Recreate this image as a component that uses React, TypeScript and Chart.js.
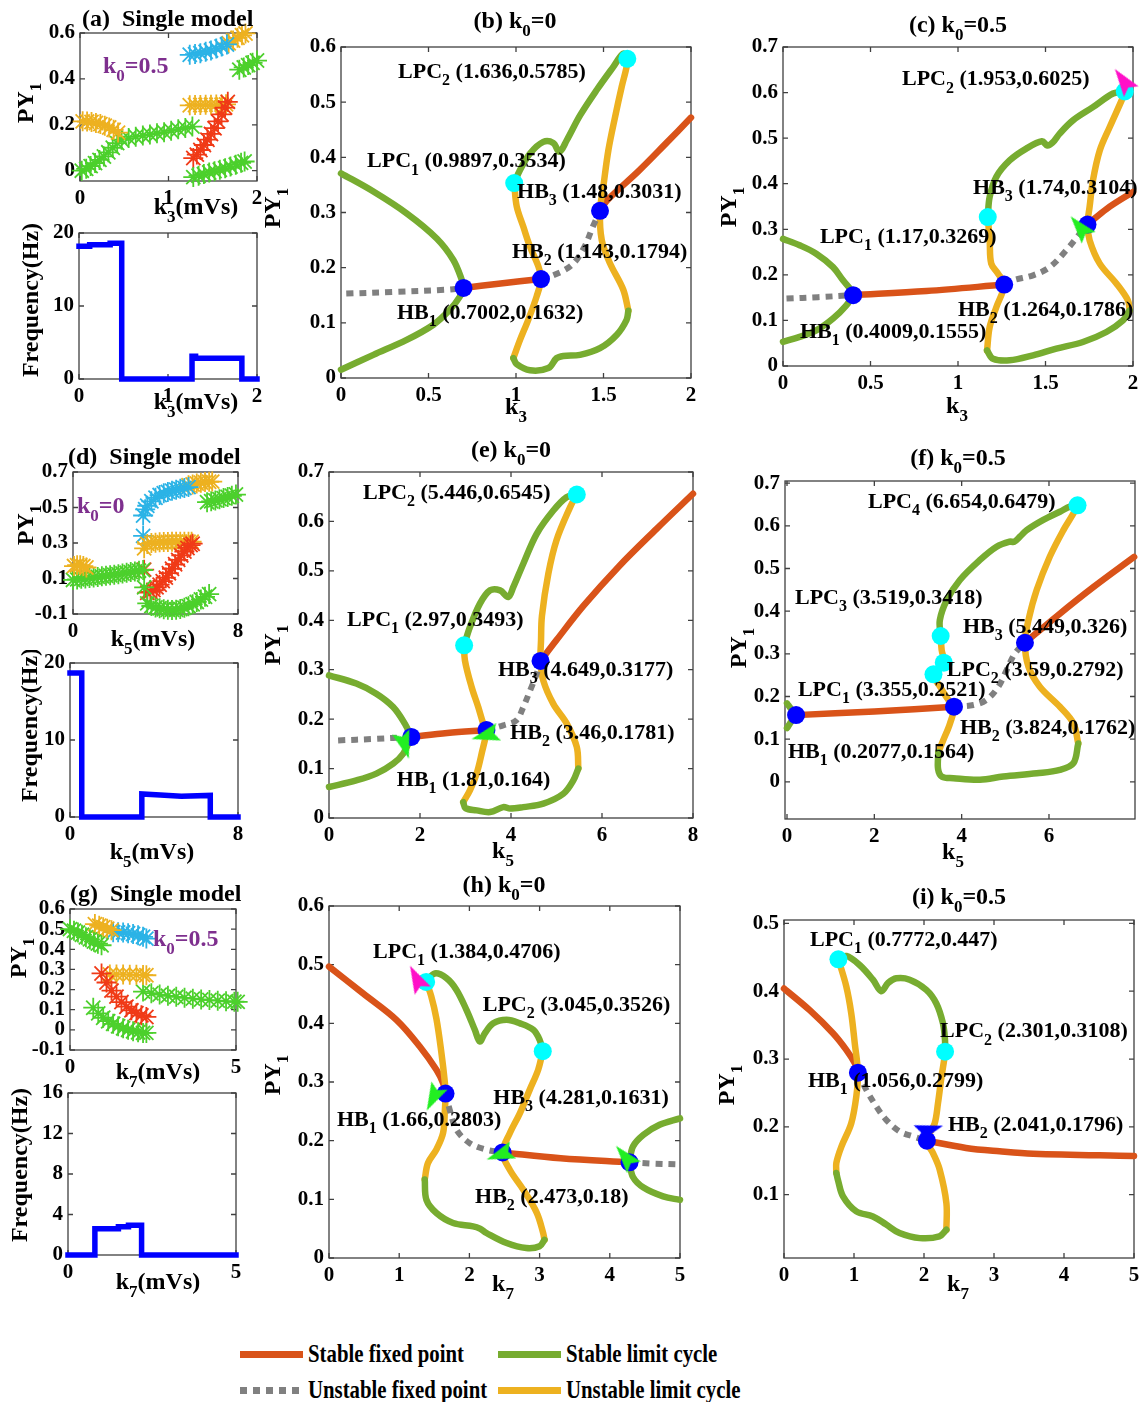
import React, { useEffect, useRef } from "react";
import { Chart, registerables } from "chart.js";
Chart.register(...registerables);

type Pt = [number, number];
type Lbl = [string, number, number];

const FONT = '"Liberation Serif", "Times New Roman", serif';
const C_SFP = "#D95319";
const C_UFP = "#808080";
const C_SLC = "#77AC30";
const C_ULC = "#EDB120";
const C_HB = "#0000FF";
const C_LPC = "#00FFFF";
const C_PURPLE = "#7E2F8E";
const C_ARR_G = "#22EE22";
const C_ARR_M = "#FF10C8";
const S_YEL = "#EDB120";
const S_GRN = "#4CD02C";
const S_CYN = "#2BB3E6";
const S_RED = "#F03A17";
const C_FREQ = "#0000FF";

// ---------------- (a) single model, k3 ----------------
const aYellowLowX = [0.03, 0.08, 0.13, 0.18, 0.23, 0.28, 0.33, 0.38, 0.43];
const aYellowLowY = [0.215, 0.214, 0.212, 0.208, 0.203, 0.196, 0.188, 0.178, 0.166];
const aGreenLowX = [0.02, 0.07, 0.12, 0.17, 0.22, 0.27, 0.32, 0.37, 0.42, 0.47, 0.55, 0.63, 0.71, 0.79, 0.87, 0.95, 1.03, 1.11, 1.19, 1.27];
const aGreenLowY = [0.0, 0.008, 0.02, 0.033, 0.047, 0.062, 0.08, 0.1, 0.12, 0.135, 0.142, 0.148, 0.153, 0.158, 0.163, 0.168, 0.174, 0.18, 0.186, 0.192];
const aYellowMidX = [1.24, 1.3, 1.36, 1.42, 1.48, 1.54, 1.6, 1.65];
const aYellowMidY = [0.285, 0.286, 0.286, 0.287, 0.287, 0.288, 0.288, 0.289];
const aRedX = [1.28, 1.32, 1.36, 1.4, 1.44, 1.48, 1.52, 1.56, 1.6, 1.64, 1.67];
const aRedY = [0.055, 0.07, 0.09, 0.112, 0.135, 0.16, 0.185, 0.215, 0.245, 0.275, 0.3];
const aGreenBotX = [1.28, 1.34, 1.4, 1.46, 1.52, 1.58, 1.64, 1.7, 1.76, 1.82, 1.86];
const aGreenBotY = [-0.028, -0.022, -0.015, -0.008, -0.002, 0.004, 0.011, 0.018, 0.026, 0.034, 0.04];
const aCyanX = [1.24, 1.3, 1.36, 1.42, 1.48, 1.54, 1.6, 1.66];
const aCyanY = [0.505, 0.508, 0.512, 0.518, 0.524, 0.532, 0.541, 0.55];
const aYellowTopX = [1.68, 1.73, 1.78, 1.83, 1.87];
const aYellowTopY = [0.555, 0.567, 0.579, 0.59, 0.598];
const aGreenTopX = [1.8, 1.85, 1.9, 1.95, 2.0];
const aGreenTopY = [0.44, 0.45, 0.46, 0.47, 0.48];
const aFreqX = [0, 0.12, 0.12, 0.35, 0.35, 0.48, 0.48, 1.27, 1.27, 1.31, 1.31, 1.83, 1.83, 2];
const aFreqY = [18.2, 18.2, 18.4, 18.4, 18.6, 18.6, 0, 0, 3.1, 3.1, 2.85, 2.85, 0, 0];

// ---------------- (b) k0=0, k3 ----------------
const bStableFP: Pt[][] = [
  [[0.7002, 0.1632], [0.9, 0.171], [1.143, 0.1794]],
  [[1.48, 0.3031], [1.52, 0.322], [1.7, 0.375], [1.85, 0.423], [2, 0.472]],
];
const bUnstableFP: Pt[][] = [
  [[0.03, 0.153], [0.3, 0.156], [0.6, 0.16], [0.7002, 0.1632]],
  [[1.143, 0.1794], [1.22, 0.187], [1.32, 0.205], [1.39, 0.237], [1.44, 0.275], [1.48, 0.3031]],
];
const bStableLC: Pt[][] = [
  [[0, 0.371], [0.185, 0.338], [0.375, 0.2985], [0.547, 0.253], [0.642, 0.214], [0.69, 0.178], [0.7002, 0.1632]],
  [[0, 0.015], [0.185, 0.042], [0.375, 0.069], [0.528, 0.0965], [0.623, 0.124], [0.68, 0.148], [0.7002, 0.1632]],
  [[0.985, 0.036], [1.004, 0.025], [1.08, 0.014], [1.185, 0.018], [1.232, 0.036], [1.27, 0.04], [1.366, 0.042], [1.48, 0.054], [1.575, 0.078], [1.632, 0.1055], [1.642, 0.122]],
  [[0.9897, 0.3534], [1.023, 0.377], [1.08, 0.407], [1.156, 0.428], [1.213, 0.426], [1.248, 0.41], [1.29, 0.431], [1.366, 0.476], [1.461, 0.522], [1.556, 0.564], [1.613, 0.588], [1.636, 0.5785]],
];
const bUnstableLC: Pt[][] = [
  [[0.9897, 0.3534], [1.004, 0.311], [1.042, 0.274], [1.08, 0.238], [1.128, 0.202], [1.143, 0.1794], [1.118, 0.148], [1.07, 0.1055], [1.023, 0.069], [0.985, 0.036]],
  [[1.642, 0.122], [1.613, 0.16], [1.537, 0.208], [1.49, 0.25], [1.48, 0.3031], [1.499, 0.347], [1.528, 0.413], [1.566, 0.473], [1.604, 0.528], [1.632, 0.564], [1.636, 0.5785]],
];
const bHB: Pt[] = [[0.7002, 0.1632], [1.143, 0.1794], [1.48, 0.3031]];
const bLPC: Pt[] = [[0.9897, 0.3534], [1.636, 0.5785]];
const bLabels: Lbl[] = [
  ["LPC_2 (1.636,0.5785)", 0.326, 0.555],
  ["LPC_1 (0.9897,0.3534)", 0.149, 0.392],
  ["HB_3 (1.48,0.3031)", 1.006, 0.337],
  ["HB_2 (1.143,0.1794)", 0.977, 0.228],
  ["HB_1 (0.7002,0.1632)", 0.32, 0.118],
];

// ---------------- (c) k0=0.5, k3 ----------------
const cStableFP: Pt[][] = [
  [[0.4009, 0.1555], [0.82, 0.1646], [1.264, 0.1786]],
  [[1.74, 0.3104], [1.85, 0.345], [2, 0.382]],
];
const cUnstableFP: Pt[][] = [
  [[0.02, 0.148], [0.2, 0.151], [0.4009, 0.1555]],
  [[1.264, 0.1786], [1.314, 0.188], [1.429, 0.199], [1.524, 0.217], [1.619, 0.254], [1.695, 0.29], [1.74, 0.3104]],
];
const cStableLC: Pt[][] = [
  [[0, 0.279], [0.095, 0.265], [0.19, 0.2465], [0.286, 0.217], [0.343, 0.188], [0.39, 0.166], [0.4009, 0.1555]],
  [[0, 0.053], [0.095, 0.064], [0.19, 0.078], [0.286, 0.104], [0.362, 0.133], [0.4009, 0.1555]],
  [[1.981, 0.122], [1.943, 0.1], [1.848, 0.0746], [1.714, 0.0527], [1.562, 0.038], [1.429, 0.0234], [1.295, 0.0124], [1.2, 0.016], [1.166, 0.034]],
  [[1.17, 0.3269], [1.181, 0.371], [1.219, 0.415], [1.295, 0.451], [1.39, 0.477], [1.48, 0.493], [1.51, 0.484], [1.54, 0.49], [1.581, 0.51], [1.657, 0.539], [1.771, 0.568], [1.886, 0.598], [1.953, 0.6025]],
];
const cUnstableLC: Pt[][] = [
  [[1.17, 0.3269], [1.181, 0.276], [1.19, 0.2246], [1.229, 0.2026], [1.264, 0.1786], [1.219, 0.129], [1.181, 0.0856], [1.166, 0.034]],
  [[1.981, 0.122], [1.971, 0.144], [1.905, 0.181], [1.81, 0.2246], [1.752, 0.276], [1.74, 0.3104], [1.752, 0.349], [1.771, 0.407], [1.81, 0.473], [1.867, 0.5245], [1.943, 0.59], [1.953, 0.6025]],
];
const cHB: Pt[] = [[0.4009, 0.1555], [1.264, 0.1786], [1.74, 0.3104]];
const cLPC: Pt[] = [[1.17, 0.3269], [1.953, 0.6025]];
const cArrowsGreen: Pt[] = [[1.695, 0.305]];
const cArrowsGreenRot = [-40];
const cArrowsMagenta: Pt[] = [[1.943, 0.627]];
const cArrowsMagentaRot = [-36];
const cLabels: Lbl[] = [
  ["LPC_2 (1.953,0.6025)", 0.68, 0.628],
  ["HB_3 (1.74,0.3104)", 1.086, 0.391],
  ["LPC_1 (1.17,0.3269)", 0.211, 0.283],
  ["HB_2 (1.264,0.1786)", 1.0, 0.123],
  ["HB_1 (0.4009,0.1555)", 0.097, 0.0746],
];

// ---------------- (d) single model, k5 ----------------
const dYellowLowX = [0.05, 0.2, 0.35, 0.5, 0.65];
const dYellowLowY = [0.17, 0.175, 0.175, 0.17, 0.162];
const dGreenLowX = [0.0, 0.2, 0.4, 0.6, 0.8, 1.0, 1.2, 1.4, 1.6, 1.8, 2.0, 2.2, 2.4, 2.6, 2.8, 3.0, 3.2, 3.4];
const dGreenLowY = [0.092, 0.095, 0.098, 0.1, 0.103, 0.106, 0.109, 0.112, 0.115, 0.118, 0.121, 0.124, 0.128, 0.132, 0.136, 0.14, 0.144, 0.148];
const dCyanX = [3.4, 3.4, 3.5, 3.6, 3.8, 4.0, 4.2, 4.4, 4.6, 4.8, 5.0, 5.2, 5.4, 5.6];
const dCyanY = [0.34, 0.455, 0.49, 0.51, 0.535, 0.555, 0.57, 0.58, 0.588, 0.595, 0.6, 0.605, 0.61, 0.615];
const dYellowMidX = [3.45, 3.6, 3.8, 4.0, 4.2, 4.4, 4.6, 4.8, 5.0, 5.2, 5.4, 5.6, 5.75];
const dYellowMidY = [0.27, 0.295, 0.3, 0.302, 0.304, 0.305, 0.306, 0.307, 0.307, 0.307, 0.307, 0.307, 0.307];
const dYellowTopX = [5.6, 5.8, 6.0, 6.2, 6.4, 6.6, 6.75];
const dYellowTopY = [0.625, 0.63, 0.635, 0.64, 0.643, 0.645, 0.646];
const dGreenTopX = [6.5, 6.7, 6.9, 7.1, 7.3, 7.5, 7.7, 7.9];
const dGreenTopY = [0.53, 0.535, 0.54, 0.547, 0.553, 0.559, 0.566, 0.573];
const dRedX = [3.45, 3.6, 3.75, 3.9, 4.05, 4.2, 4.35, 4.5, 4.65, 4.8, 4.95, 5.1, 5.25, 5.4, 5.55, 5.7, 5.8];
const dRedY = [0.15, 0.02, 0.025, 0.035, 0.05, 0.065, 0.085, 0.105, 0.13, 0.155, 0.18, 0.205, 0.23, 0.252, 0.272, 0.288, 0.296];
const dGreenBotX = [3.45, 3.6, 3.8, 4.0, 4.2, 4.4, 4.6, 4.8, 5.0, 5.2, 5.4, 5.6, 5.8, 6.0, 6.2, 6.4, 6.6];
const dGreenBotY = [0.05, -0.04, -0.055, -0.063, -0.068, -0.073, -0.076, -0.077, -0.076, -0.072, -0.065, -0.056, -0.045, -0.032, -0.018, -0.003, 0.012];
const dFreqX = [0, 0.56, 0.56, 3.42, 3.42, 4.3, 5.3, 6.68, 6.68, 8];
const dFreqY = [18.7, 18.7, 0, 0, 3.0, 2.85, 2.7, 2.8, 0, 0];

// ---------------- (e) k0=0, k5 ----------------
const eStableFP: Pt[][] = [
  [[1.81, 0.164], [2.6, 0.172], [3.46, 0.1781]],
  [[4.649, 0.3177], [5.0, 0.36], [5.6, 0.43], [6.36, 0.508], [7.2, 0.585], [8, 0.656]],
];
const eUnstableFP: Pt[][] = [
  [[0.2, 0.157], [1.0, 0.16], [1.81, 0.164]],
  [[3.46, 0.1781], [3.83, 0.1875], [4.12, 0.1976], [4.27, 0.2245], [4.42, 0.258], [4.565, 0.292], [4.649, 0.3177]],
];
const eStableLC: Pt[][] = [
  [[0, 0.2886], [0.6, 0.272], [1.04, 0.2515], [1.41, 0.2245], [1.666, 0.191], [1.81, 0.164]],
  [[0, 0.0627], [0.6, 0.076], [1.04, 0.0897], [1.41, 0.11], [1.63, 0.13], [1.81, 0.164]],
  [[2.95, 0.032], [3.0, 0.02], [3.244, 0.0155], [3.54, 0.012], [3.83, 0.022], [3.98, 0.019], [4.27, 0.022], [4.71, 0.029], [5.15, 0.049], [5.37, 0.076], [5.48, 0.1]],
  [[2.97, 0.3493], [3.097, 0.386], [3.317, 0.4336], [3.54, 0.4606], [3.76, 0.4606], [3.94, 0.447], [4.05, 0.467], [4.27, 0.5145], [4.565, 0.575], [4.93, 0.622], [5.22, 0.649], [5.446, 0.6545]],
];
const eUnstableLC: Pt[][] = [
  [[2.97, 0.3493], [2.987, 0.319], [3.134, 0.265], [3.28, 0.2245], [3.39, 0.191], [3.46, 0.1781], [3.354, 0.13], [3.244, 0.0897], [3.097, 0.056], [2.95, 0.032]],
  [[5.48, 0.1], [5.446, 0.1436], [5.226, 0.191], [4.93, 0.231], [4.71, 0.278], [4.649, 0.3177], [4.66, 0.36], [4.68, 0.409], [4.82, 0.494], [5.0, 0.562], [5.3, 0.629], [5.446, 0.6545]],
];
const eHB: Pt[] = [[1.81, 0.164], [3.46, 0.1781], [4.649, 0.3177]];
const eLPC: Pt[] = [[2.97, 0.3493], [5.446, 0.6545]];
const eArrowsGreen: Pt[] = [[1.666, 0.147], [3.43, 0.167]];
const eArrowsGreenRot = [163, -105];
const eLabels: Lbl[] = [
  ["LPC_2 (5.446,0.6545)", 0.747, 0.6575],
  ["LPC_1 (2.97,0.3493)", 0.396, 0.4006],
  ["HB_3 (4.649,0.3177)", 3.714, 0.2994],
  ["HB_2 (3.46,0.1781)", 3.98, 0.172],
  ["HB_1 (1.81,0.164)", 1.49, 0.0769],
];

// ---------------- (f) k0=0.5, k5 ----------------
const fStableFP: Pt[][] = [
  [[0.2077, 0.1564], [2, 0.165], [3.824, 0.1762]],
  [[5.449, 0.326], [6.2, 0.39], [7, 0.455], [7.95, 0.527]],
];
const fUnstableFP: Pt[][] = [
  [[3.824, 0.1762], [4.27, 0.18], [4.57, 0.192], [4.84, 0.223], [5.03, 0.262], [5.22, 0.301], [5.449, 0.326]],
];
const fStableLC: Pt[][] = [
  [[0, 0.184], [0.1, 0.17], [0.2077, 0.1564]],
  [[0, 0.126], [0.1, 0.142], [0.2077, 0.1564]],
  [[3.466, 0.07], [3.46, 0.03], [3.55, 0.012], [3.81, 0.0086], [4.42, 0.005], [4.95, 0.0125], [5.72, 0.02], [6.25, 0.028], [6.56, 0.0437], [6.67, 0.09]],
  [[3.519, 0.3418], [3.5, 0.379], [3.66, 0.426], [3.96, 0.473], [4.42, 0.52], [4.8, 0.551], [5.1, 0.563], [5.2, 0.5625], [5.34, 0.575], [5.49, 0.59], [5.87, 0.614], [6.25, 0.633], [6.48, 0.645], [6.654, 0.6479]],
];
const fUnstableLC: Pt[][] = [
  [[3.519, 0.3418], [3.542, 0.309], [3.59, 0.2792], [3.355, 0.2521], [3.504, 0.2233], [3.695, 0.192], [3.824, 0.1762], [3.733, 0.137], [3.58, 0.098], [3.466, 0.07]],
  [[6.67, 0.09], [6.56, 0.137], [6.25, 0.176], [5.79, 0.223], [5.53, 0.27], [5.449, 0.326], [5.53, 0.379], [5.72, 0.45], [6.02, 0.528], [6.33, 0.59], [6.56, 0.629], [6.654, 0.6479]],
];
const fHB: Pt[] = [[0.2077, 0.1564], [3.824, 0.1762], [5.449, 0.326]];
const fLPC: Pt[] = [[3.355, 0.2521], [3.59, 0.2792], [3.519, 0.3418], [6.654, 0.6479]];
const fLabels: Lbl[] = [
  ["LPC_4 (6.654,0.6479)", 1.855, 0.656],
  ["LPC_3 (3.519,0.3418)", 0.183, 0.431],
  ["HB_3 (5.449,0.326)", 4.03, 0.363],
  ["LPC_2 (3.59,0.2792)", 3.66, 0.262],
  ["LPC_1 (3.355,0.2521)", 0.25, 0.215],
  ["HB_2 (3.824,0.1762)", 3.96, 0.126],
  ["HB_1 (0.2077,0.1564)", 0.02, 0.07],
];

// ---------------- (g) single model, k7 ----------------
const gGreenTopX = [0.0, 0.12, 0.24, 0.36, 0.48, 0.6, 0.72, 0.84, 0.95];
const gGreenTopY = [0.5, 0.492, 0.483, 0.472, 0.46, 0.449, 0.438, 0.428, 0.42];
const gYellowTopX = [0.75, 0.88, 1.0, 1.12, 1.25];
const gYellowTopY = [0.525, 0.517, 0.51, 0.502, 0.495];
const gCyanX = [1.3, 1.45, 1.6, 1.75, 1.9, 2.05, 2.2, 2.3];
const gCyanY = [0.485, 0.484, 0.483, 0.48, 0.476, 0.47, 0.462, 0.453];
const gYellowMidX = [1.2, 1.4, 1.6, 1.8, 2.0, 2.2, 2.3];
const gYellowMidY = [0.275, 0.275, 0.275, 0.274, 0.273, 0.272, 0.271];
const gRedX = [0.95, 1.1, 1.25, 1.4, 1.55, 1.7, 1.85, 2.0, 2.15, 2.3];
const gRedY = [0.28, 0.235, 0.195, 0.165, 0.138, 0.115, 0.097, 0.083, 0.072, 0.064];
const gGreenLowX = [0.7, 0.85, 1.0, 1.15, 1.3, 1.45, 1.6, 1.75, 1.9, 2.05, 2.2, 2.3];
const gGreenLowY = [0.11, 0.082, 0.06, 0.043, 0.03, 0.018, 0.008, 0.0, -0.007, -0.012, -0.015, -0.015];
const gGreenRightX = [2.2, 2.45, 2.7, 2.95, 3.2, 3.45, 3.7, 3.95, 4.2, 4.45, 4.7, 4.95, 5.05];
const gGreenRightY = [0.19, 0.182, 0.175, 0.169, 0.164, 0.159, 0.155, 0.151, 0.148, 0.145, 0.142, 0.14, 0.139];
const gFreqX = [0, 0.8, 0.8, 1.5, 1.5, 1.8, 1.8, 2.19, 2.19, 5];
const gFreqY = [0, 0, 2.6, 2.6, 2.8, 2.8, 2.95, 2.95, 0, 0];

// ---------------- (h) k0=0, k7 ----------------
const hStableFP: Pt[][] = [
  [[0, 0.4967], [0.485, 0.451], [0.96, 0.406], [1.293, 0.3605], [1.53, 0.3207], [1.625, 0.298], [1.66, 0.2803]],
  [[2.473, 0.18], [3.3, 0.17], [4.281, 0.1631]],
];
const hUnstableFP: Pt[][] = [
  [[1.66, 0.2803], [1.72, 0.2526], [1.816, 0.2185], [2.005, 0.1958], [2.243, 0.1845], [2.473, 0.18]],
  [[4.281, 0.1631], [4.6, 0.161], [5, 0.1595]],
];
const hStableLC: Pt[][] = [
  [[4.281, 0.1631], [4.33, 0.19], [4.48, 0.21], [4.71, 0.227], [5, 0.238]],
  [[4.281, 0.1631], [4.33, 0.138], [4.48, 0.12], [4.76, 0.105], [5, 0.099]],
  [[1.364, 0.134], [1.388, 0.099], [1.53, 0.0766], [1.768, 0.0596], [2.053, 0.054], [2.15, 0.05], [2.243, 0.0426], [2.53, 0.0255], [2.81, 0.017], [3.0, 0.02], [3.07, 0.031]],
  [[1.384, 0.4706], [1.507, 0.485], [1.673, 0.477], [1.816, 0.457], [1.958, 0.423], [2.077, 0.389], [2.148, 0.369], [2.22, 0.383], [2.34, 0.4], [2.53, 0.406], [2.72, 0.4], [2.91, 0.389], [3.0, 0.372], [3.045, 0.3526]],
];
const hUnstableLC: Pt[][] = [
  [[1.384, 0.4706], [1.455, 0.447], [1.53, 0.408], [1.6, 0.351], [1.65, 0.3], [1.66, 0.2803], [1.65, 0.25], [1.625, 0.213], [1.53, 0.185], [1.41, 0.162], [1.364, 0.134]],
  [[3.07, 0.031], [3.05, 0.043], [2.96, 0.077], [2.77, 0.116], [2.577, 0.15], [2.473, 0.18], [2.577, 0.213], [2.72, 0.247], [2.86, 0.287], [2.98, 0.321], [3.045, 0.3526]],
];
const hHB: Pt[] = [[1.66, 0.2803], [2.473, 0.18], [4.281, 0.1631]];
const hLPC: Pt[] = [[1.384, 0.4706], [3.045, 0.3526]];
const hArrowsGreen: Pt[] = [[1.483, 0.2725], [2.433, 0.176], [4.216, 0.173]];
const hArrowsGreenRot = [-153, -110, -40];
const hArrowsMagenta: Pt[] = [[1.245, 0.477]];
const hArrowsMagentaRot = [-27];
const hLabels: Lbl[] = [
  ["LPC_1 (1.384,0.4706)", 0.627, 0.5216],
  ["LPC_2 (3.045,0.3526)", 2.19, 0.431],
  ["HB_3 (4.281,0.1631)", 2.34, 0.2727],
  ["HB_1 (1.66,0.2803)", 0.114, 0.235],
  ["HB_2 (2.473,0.18)", 2.08, 0.104],
];

// ---------------- (i) k0=0.5, k7 ----------------
const iStableFP: Pt[][] = [
  [[0, 0.404], [0.367, 0.372], [0.7, 0.338], [0.89, 0.3135], [1.01, 0.294], [1.056, 0.2799]],
  [[2.041, 0.1796], [2.6, 0.169], [3.08, 0.164], [3.56, 0.1604], [5, 0.157]],
];
const iUnstableFP: Pt[][] = [
  [[1.056, 0.2799], [1.176, 0.2546], [1.32, 0.23], [1.46, 0.2104], [1.652, 0.1933], [1.843, 0.186], [2.041, 0.1796]],
];
const iStableLC: Pt[][] = [
  [[0.748, 0.132], [0.77, 0.122], [0.843, 0.0975], [1.033, 0.0754], [1.27, 0.068], [1.46, 0.056], [1.65, 0.0435], [1.94, 0.036], [2.22, 0.0386], [2.32, 0.0485]],
  [[0.7772, 0.447], [0.89, 0.452], [1.08, 0.4386], [1.27, 0.417], [1.39, 0.4], [1.486, 0.412], [1.605, 0.419], [1.795, 0.417], [2.033, 0.402], [2.176, 0.382], [2.27, 0.353], [2.3, 0.328], [2.301, 0.3108]],
];
const iUnstableLC: Pt[][] = [
  [[0.7772, 0.447], [0.89, 0.407], [0.96, 0.368], [1.01, 0.324], [1.056, 0.2799], [1.033, 0.245], [0.96, 0.205], [0.82, 0.171], [0.748, 0.147], [0.748, 0.132]],
  [[2.32, 0.0485], [2.32, 0.0877], [2.224, 0.137], [2.13, 0.161], [2.041, 0.1796], [2.152, 0.205], [2.2, 0.235], [2.25, 0.274], [2.29, 0.3], [2.301, 0.3108]],
];
const iHB: Pt[] = [[1.056, 0.2799], [2.041, 0.1796]];
const iLPC: Pt[] = [[0.7772, 0.447], [2.301, 0.3108]];
const iArrowsBlue: Pt[] = [[2.081, 0.1957]];
const iArrowsBlueRot = [73];
const iLabels: Lbl[] = [
  ["LPC_1 (0.7772,0.447)", 0.371, 0.4755],
  ["LPC_2 (2.301,0.3108)", 2.23, 0.3405],
  ["HB_1 (1.056,0.2799)", 0.343, 0.2669],
  ["HB_2 (2.041,0.1796)", 2.343, 0.203],
];

// ---------------- legend ----------------
const legendLabels = ["Stable fixed point", "Unstable fixed point", "Stable limit cycle", "Unstable limit cycle"];
const legendColors = [C_SFP, C_UFP, C_SLC, C_ULC];

// ================= helpers =================
const toXY = (pts: Pt[]) => pts.map(([x, y]) => ({ x, y }));
const zip = (xs: number[], ys: number[]) => xs.map((x, i) => ({ x, y: ys[i] }));

const arrowCache: Record<string, HTMLCanvasElement> = {};
function arrowImage(color: string): HTMLCanvasElement {
  if (arrowCache[color]) return arrowCache[color];
  const c = document.createElement("canvas");
  c.width = 30;
  c.height = 30;
  const g = c.getContext("2d") as CanvasRenderingContext2D;
  g.fillStyle = color;
  g.beginPath();
  g.moveTo(15, 1);
  g.lineTo(24, 29);
  g.lineTo(15, 24);
  g.lineTo(6, 29);
  g.closePath();
  g.fill();
  arrowCache[color] = c;
  return c;
}

const lineDs = (pts: Pt[], color: string, dashed = false) => ({
  data: toXY(pts),
  showLine: true,
  borderColor: color,
  backgroundColor: color,
  borderWidth: dashed ? 6 : 6.5,
  borderDash: dashed ? [7, 6] : [],
  borderCapStyle: dashed ? "butt" : "round",
  borderJoinStyle: "round",
  pointRadius: 0,
  pointHoverRadius: 0,
  tension: 0.35,
  clip: false,
  order: 3,
});
const stepDs = (xs: number[], ys: number[]) => ({
  data: zip(xs, ys),
  showLine: true,
  borderColor: C_FREQ,
  backgroundColor: C_FREQ,
  borderWidth: 5.5,
  borderCapStyle: "square",
  pointRadius: 0,
  pointHoverRadius: 0,
  tension: 0,
  clip: false,
  order: 3,
});
const dotDs = (pts: Pt[], color: string) => ({
  data: toXY(pts),
  showLine: false,
  pointStyle: "circle",
  pointRadius: 9,
  pointHoverRadius: 9,
  pointBackgroundColor: color,
  pointBorderColor: color,
  pointBorderWidth: 0,
  clip: false,
  order: 1,
});
const arrowDs = (pts: Pt[], rot: number[], color: string) => ({
  data: toXY(pts),
  showLine: false,
  pointStyle: arrowImage(color),
  pointRadius: 12,
  pointHoverRadius: 12,
  pointRotation: rot,
  pointBackgroundColor: color,
  pointBorderColor: color,
  pointBorderWidth: 0,
  clip: false,
  order: 0,
});
const starDs = (xs: number[], ys: number[], color: string) => ({
  data: zip(xs, ys),
  showLine: false,
  pointStyle: "star",
  pointRadius: 10,
  pointHoverRadius: 10,
  pointBackgroundColor: color,
  pointBorderColor: color,
  pointBorderWidth: 1.8,
  clip: false,
  order: 2,
});

function bif(sfp: Pt[][], ufp: Pt[][], slc: Pt[][], ulc: Pt[][], hb: Pt[], lpc: Pt[]) {
  return [
    ...ufp.map((p) => lineDs(p, C_UFP, true)),
    ...slc.map((p) => lineDs(p, C_SLC)),
    ...ulc.map((p) => lineDs(p, C_ULC)),
    ...sfp.map((p) => lineDs(p, C_SFP)),
    dotDs(lpc, C_LPC),
    dotDs(hb, C_HB),
  ];
}

type Annot = { t: string; x: number; y: number; size?: number; color?: string };
type PText = { t: string; x: number; y: number; size?: number; align?: "left" | "center"; rot?: boolean };
type Spec = {
  canvas: [number, number, number, number];
  plot: [number, number, number, number];
  x: [number, number];
  y: [number, number];
  xTicks: number[];
  yTicks: number[];
  datasets: any[];
  annots?: Annot[];
  texts: PText[];
};

const lbl = (arr: Lbl[]): Annot[] => arr.map(([t, x, y]) => ({ t, x, y }));

function drawRich(ctx: CanvasRenderingContext2D, text: string, x: number, y: number, size: number, align: string, rot: boolean, color: string) {
  const segs: { s: string; sub: boolean }[] = [];
  let buf = "";
  for (let i = 0; i < text.length; i++) {
    if (text[i] === "_" && i + 1 < text.length) {
      if (buf) segs.push({ s: buf, sub: false });
      buf = "";
      segs.push({ s: text[i + 1], sub: true });
      i++;
    } else buf += text[i];
  }
  if (buf) segs.push({ s: buf, sub: false });
  const mainF = `bold ${size}px ${FONT}`;
  const subF = `bold ${Math.round(size * 0.72)}px ${FONT}`;
  ctx.save();
  ctx.translate(x, y);
  if (rot) ctx.rotate(-Math.PI / 2);
  let w = 0;
  for (const g of segs) {
    ctx.font = g.sub ? subF : mainF;
    w += ctx.measureText(g.s).width;
  }
  let cx = align === "center" ? -w / 2 : 0;
  ctx.fillStyle = color;
  ctx.textBaseline = "middle";
  ctx.textAlign = "left";
  for (const g of segs) {
    ctx.font = g.sub ? subF : mainF;
    ctx.fillText(g.s, cx, g.sub ? size * 0.4 : 0);
    cx += ctx.measureText(g.s).width;
  }
  ctx.restore();
}

const fmt = (v: any) => {
  const n = Number(v);
  return String(Math.round(n * 1000) / 1000);
};

function makePlugin(spec: Spec) {
  return {
    id: "frameAndText",
    beforeDatasetsDraw(chart: any) {
      const { ctx, chartArea: a, scales } = chart;
      ctx.save();
      ctx.strokeStyle = "#404040";
      ctx.lineWidth = 1.3;
      ctx.strokeRect(a.left, a.top, a.right - a.left, a.bottom - a.top);
      const tl = 5;
      ctx.beginPath();
      for (const v of spec.xTicks) {
        const px = scales.x.getPixelForValue(v);
        ctx.moveTo(px, a.bottom);
        ctx.lineTo(px, a.bottom - tl);
        ctx.moveTo(px, a.top);
        ctx.lineTo(px, a.top + tl);
      }
      for (const v of spec.yTicks) {
        const py = scales.y.getPixelForValue(v);
        ctx.moveTo(a.left, py);
        ctx.lineTo(a.left + tl, py);
        ctx.moveTo(a.right, py);
        ctx.lineTo(a.right - tl, py);
      }
      ctx.stroke();
      ctx.restore();
    },
    afterDraw(chart: any) {
      const { ctx, scales } = chart;
      const [cl, ct] = spec.canvas;
      for (const an of spec.annots || []) {
        const px = scales.x.getPixelForValue(an.x);
        const py = scales.y.getPixelForValue(an.y);
        drawRich(ctx, an.t, px, py, an.size || 22, "left", false, an.color || "#000");
      }
      for (const t of spec.texts) {
        drawRich(ctx, t.t, t.x - cl, t.y - ct, t.size || 24, t.align || "center", !!t.rot, "#000");
      }
    },
  };
}

function Panel({ spec }: { spec: Spec }) {
  const ref = useRef<HTMLCanvasElement>(null);
  const [cl, ct, cw, ch] = spec.canvas;
  useEffect(() => {
    const [pl, pt, pr, pb] = spec.plot;
    const tickFont = { family: FONT, size: 21, weight: "bold" as const };
    const chart = new Chart(ref.current as HTMLCanvasElement, {
      type: "scatter",
      data: { datasets: spec.datasets as any },
      options: {
        animation: false,
        responsive: false,
        events: [],
        layout: { autoPadding: false, padding: { left: 0, top: pt - ct, right: cl + cw - pr, bottom: 0 } },
        plugins: { legend: { display: false }, tooltip: { enabled: false }, title: { display: false } },
        scales: {
          x: {
            type: "linear",
            position: "bottom",
            min: spec.x[0],
            max: spec.x[1],
            bounds: "data",
            grid: { display: false, drawTicks: false },
            border: { display: false },
            ticks: { autoSkip: false, maxRotation: 0, minRotation: 0, padding: 5, color: "#000", font: tickFont, callback: fmt },
            afterBuildTicks: (s: any) => {
              s.ticks = spec.xTicks.map((v) => ({ value: v }));
            },
            afterFit: (s: any) => {
              s.height = ct + ch - pb;
              s.paddingLeft = 0;
              s.paddingRight = 0;
              s.paddingTop = 0;
              s.paddingBottom = 0;
            },
          },
          y: {
            type: "linear",
            position: "left",
            min: spec.y[0],
            max: spec.y[1],
            bounds: "data",
            grid: { display: false, drawTicks: false },
            border: { display: false },
            ticks: { autoSkip: false, padding: 5, color: "#000", font: tickFont, callback: fmt },
            afterBuildTicks: (s: any) => {
              s.ticks = spec.yTicks.map((v) => ({ value: v }));
            },
            afterFit: (s: any) => {
              s.width = pl - cl;
              s.paddingLeft = 0;
              s.paddingRight = 0;
              s.paddingTop = 0;
              s.paddingBottom = 0;
            },
          },
        },
      } as any,
      plugins: [makePlugin(spec)],
    });
    return () => chart.destroy();
  }, []);
  return <canvas ref={ref} width={cw} height={ch} style={{ position: "absolute", left: cl, top: ct, width: cw, height: ch }} />;
}

// ================= panels =================
const K01 = [0, 0.1, 0.2, 0.3, 0.4, 0.5, 0.6];
const K07 = [0, 0.1, 0.2, 0.3, 0.4, 0.5, 0.6, 0.7];

const PANELS: Spec[] = [
  {
    canvas: [0, 0, 285, 232],
    plot: [80, 33, 257, 181],
    x: [0, 2],
    y: [-0.045, 0.6],
    xTicks: [0, 1, 2],
    yTicks: [0, 0.2, 0.4, 0.6],
    datasets: [
      starDs(aYellowLowX, aYellowLowY, S_YEL),
      starDs(aGreenLowX, aGreenLowY, S_GRN),
      starDs(aGreenBotX, aGreenBotY, S_GRN),
      starDs(aRedX, aRedY, S_RED),
      starDs(aYellowMidX, aYellowMidY, S_YEL),
      starDs(aCyanX, aCyanY, S_CYN),
      starDs(aYellowTopX, aYellowTopY, S_YEL),
      starDs(aGreenTopX, aGreenTopY, S_GRN),
    ],
    annots: [{ t: "k_0=0.5", x: 0.26, y: 0.452, size: 24, color: C_PURPLE }],
    texts: [
      { t: "(a)  Single model", x: 82, y: 20, align: "left" },
      { t: "PY_1", x: 27, y: 103, rot: true },
      { t: "k_3(mVs)", x: 196, y: 208 },
    ],
  },
  {
    canvas: [0, 215, 285, 210],
    plot: [79, 233, 257, 379],
    x: [0, 2],
    y: [0, 20],
    xTicks: [0, 1, 2],
    yTicks: [0, 10, 20],
    datasets: [stepDs(aFreqX, aFreqY)],
    texts: [
      { t: "Frequency(Hz)", x: 32, y: 300, rot: true },
      { t: "k_3(mVs)", x: 196, y: 403 },
    ],
  },
  {
    canvas: [250, 0, 465, 430],
    plot: [341, 47, 691, 378],
    x: [0, 2],
    y: [0, 0.6],
    xTicks: [0, 0.5, 1, 1.5, 2],
    yTicks: K01,
    datasets: bif(bStableFP, bUnstableFP, bStableLC, bUnstableLC, bHB, bLPC),
    annots: lbl(bLabels),
    texts: [
      { t: "(b) k_0=0", x: 515, y: 22 },
      { t: "PY_1", x: 274, y: 208, rot: true },
      { t: "k_3", x: 516, y: 408 },
    ],
  },
  {
    canvas: [705, 0, 438, 430],
    plot: [783, 47, 1133, 366],
    x: [0, 2],
    y: [0, 0.7],
    xTicks: [0, 0.5, 1, 1.5, 2],
    yTicks: K07,
    datasets: [
      ...bif(cStableFP, cUnstableFP, cStableLC, cUnstableLC, cHB, cLPC),
      arrowDs(cArrowsGreen, cArrowsGreenRot, C_ARR_G),
      arrowDs(cArrowsMagenta, cArrowsMagentaRot, C_ARR_M),
    ],
    annots: lbl(cLabels),
    texts: [
      { t: "(c) k_0=0.5", x: 958, y: 26 },
      { t: "PY_1", x: 730, y: 207, rot: true },
      { t: "k_3", x: 957, y: 407 },
    ],
  },
  {
    canvas: [0, 435, 285, 220],
    plot: [73, 472, 238, 614],
    x: [0, 8],
    y: [-0.1, 0.7],
    xTicks: [0, 8],
    yTicks: [-0.1, 0.1, 0.3, 0.5, 0.7],
    datasets: [
      starDs(dYellowLowX, dYellowLowY, S_YEL),
      starDs(dGreenLowX, dGreenLowY, S_GRN),
      starDs(dGreenBotX, dGreenBotY, S_GRN),
      starDs(dRedX, dRedY, S_RED),
      starDs(dYellowMidX, dYellowMidY, S_YEL),
      starDs(dCyanX, dCyanY, S_CYN),
      starDs(dYellowTopX, dYellowTopY, S_YEL),
      starDs(dGreenTopX, dGreenTopY, S_GRN),
    ],
    annots: [{ t: "k_0=0", x: 0.19, y: 0.503, size: 24, color: C_PURPLE }],
    texts: [
      { t: "(d)  Single model", x: 68, y: 458, align: "left" },
      { t: "PY_1", x: 27, y: 525, rot: true },
      { t: "k_5(mVs)", x: 153, y: 640 },
    ],
  },
  {
    canvas: [0, 650, 285, 220],
    plot: [70, 663, 238, 817],
    x: [0, 8],
    y: [0, 20],
    xTicks: [0, 8],
    yTicks: [0, 10, 20],
    datasets: [stepDs(dFreqX, dFreqY)],
    texts: [
      { t: "Frequency(Hz)", x: 31, y: 725, rot: true },
      { t: "k_5(mVs)", x: 152, y: 853 },
    ],
  },
  {
    canvas: [250, 435, 465, 435],
    plot: [329, 472, 693, 818],
    x: [0, 8],
    y: [0, 0.7],
    xTicks: [0, 2, 4, 6, 8],
    yTicks: K07,
    datasets: [
      ...bif(eStableFP, eUnstableFP, eStableLC, eUnstableLC, eHB, eLPC),
      arrowDs(eArrowsGreen, eArrowsGreenRot, C_ARR_G),
    ],
    annots: lbl(eLabels),
    texts: [
      { t: "(e) k_0=0", x: 511, y: 451 },
      { t: "PY_1", x: 274, y: 645, rot: true },
      { t: "k_5", x: 503, y: 852 },
    ],
  },
  {
    canvas: [705, 435, 438, 435],
    plot: [785, 481, 1135, 819],
    x: [-0.046, 7.97],
    y: [-0.087, 0.705],
    xTicks: [0, 2, 4, 6],
    yTicks: K07,
    datasets: bif(fStableFP, fUnstableFP, fStableLC, fUnstableLC, fHB, fLPC),
    annots: lbl(fLabels),
    texts: [
      { t: "(f) k_0=0.5", x: 958, y: 459 },
      { t: "PY_1", x: 740, y: 648, rot: true },
      { t: "k_5", x: 953, y: 853 },
    ],
  },
  {
    canvas: [0, 875, 285, 215],
    plot: [70, 909, 236, 1050],
    x: [0, 5],
    y: [-0.1, 0.6],
    xTicks: [0, 5],
    yTicks: [-0.1, 0, 0.1, 0.2, 0.3, 0.4, 0.5, 0.6],
    datasets: [
      starDs(gGreenTopX, gGreenTopY, S_GRN),
      starDs(gYellowTopX, gYellowTopY, S_YEL),
      starDs(gCyanX, gCyanY, S_CYN),
      starDs(gGreenLowX, gGreenLowY, S_GRN),
      starDs(gRedX, gRedY, S_RED),
      starDs(gYellowMidX, gYellowMidY, S_YEL),
      starDs(gGreenRightX, gGreenRightY, S_GRN),
    ],
    annots: [{ t: "k_0=0.5", x: 2.5, y: 0.446, size: 24, color: C_PURPLE }],
    texts: [
      { t: "(g)  Single model", x: 70, y: 895, align: "left" },
      { t: "PY_1", x: 20, y: 958, rot: true },
      { t: "k_7(mVs)", x: 158, y: 1073 },
    ],
  },
  {
    canvas: [0, 1080, 285, 225],
    plot: [68, 1093, 236, 1255],
    x: [0, 5],
    y: [0, 16],
    xTicks: [0, 5],
    yTicks: [0, 4, 8, 12, 16],
    datasets: [stepDs(gFreqX, gFreqY)],
    texts: [
      { t: "Frequency(Hz)", x: 21, y: 1165, rot: true },
      { t: "k_7(mVs)", x: 158, y: 1283 },
    ],
  },
  {
    canvas: [250, 870, 465, 440],
    plot: [329, 906, 680, 1258],
    x: [0, 5],
    y: [0, 0.6],
    xTicks: [0, 1, 2, 3, 4, 5],
    yTicks: K01,
    datasets: [
      ...bif(hStableFP, hUnstableFP, hStableLC, hUnstableLC, hHB, hLPC),
      arrowDs(hArrowsGreen, hArrowsGreenRot, C_ARR_G),
      arrowDs(hArrowsMagenta, hArrowsMagentaRot, C_ARR_M),
    ],
    annots: lbl(hLabels),
    texts: [
      { t: "(h) k_0=0", x: 504, y: 886 },
      { t: "PY_1", x: 274, y: 1075, rot: true },
      { t: "k_7", x: 503, y: 1285 },
    ],
  },
  {
    canvas: [705, 870, 438, 440],
    plot: [784, 920, 1134, 1258],
    x: [0, 5],
    y: [0.0067, 0.505],
    xTicks: [0, 1, 2, 3, 4, 5],
    yTicks: [0.1, 0.2, 0.3, 0.4, 0.5],
    datasets: [
      ...bif(iStableFP, iUnstableFP, iStableLC, iUnstableLC, iHB, iLPC),
      arrowDs(iArrowsBlue, iArrowsBlueRot, C_HB),
    ],
    annots: lbl(iLabels),
    texts: [
      { t: "(i) k_0=0.5", x: 959, y: 898 },
      { t: "PY_1", x: 728, y: 1085, rot: true },
      { t: "k_7", x: 958, y: 1285 },
    ],
  },
];

function Legend() {
  const cols = [240, 498];
  const rows = [1354, 1390];
  return (
    <>
      {legendLabels.map((label, i) => {
        const col = i < 2 ? 0 : 1;
        const row = i % 2;
        const lx = cols[col];
        const cy = rows[row];
        const dashed = i === 1;
        return (
          <React.Fragment key={label}>
            <div
              style={{
                position: "absolute",
                left: lx,
                top: cy - 3.5,
                width: 63,
                height: 7,
                background: dashed
                  ? `repeating-linear-gradient(to right, ${legendColors[i]} 0px, ${legendColors[i]} 7px, transparent 7px, transparent 13px)`
                  : legendColors[i],
              }}
            />
            <div
              style={{
                position: "absolute",
                left: lx + 68,
                top: cy - 15,
                height: 30,
                lineHeight: "30px",
                font: `bold 26px ${FONT}`,
                whiteSpace: "nowrap",
                transform: "scaleX(0.8)",
                transformOrigin: "left center",
                color: "#000",
              }}
            >
              {label}
            </div>
          </React.Fragment>
        );
      })}
    </>
  );
}

export default function App() {
  return (
    <div style={{ position: "absolute", left: 0, top: 0, width: 1143, height: 1402, background: "#fff", overflow: "hidden" }}>
      {PANELS.map((p, i) => (
        <Panel key={i} spec={p} />
      ))}
      <Legend />
    </div>
  );
}
